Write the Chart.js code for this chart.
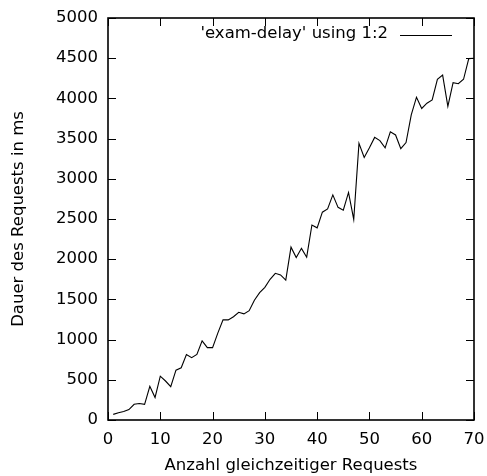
<!DOCTYPE html>
<html><head><meta charset="utf-8">
<script src="https://cdn.jsdelivr.net/npm/chart.js@4/dist/chart.umd.min.js"></script>
<style>html,body{margin:0;padding:0;background:#fff}#wrap{width:487px;height:476px}</style>
</head><body><div id="wrap"><canvas id="c" width="487" height="476"></canvas></div>
<script>
const requests = [1,2,3,4,5,6,7,8,9,10,11,12,13,14,15,16,17,18,19,20,21,22,23,24,25,26,27,28,29,30,31,32,33,34,35,36,37,38,39,40,41,42,43,44,45,46,47,48,49,50,51,52,53,54,55,56,57,58,59,60,61,62,63,64,65,66,67,68,69,70];
const durations = [70,90,105,130,195,205,195,420,280,545,485,415,620,650,815,775,815,985,900,900,1080,1245,1245,1285,1340,1320,1360,1490,1585,1650,1750,1825,1805,1740,2150,2020,2135,2025,2425,2390,2585,2625,2800,2645,2610,2830,2495,3440,3265,3385,3515,3475,3385,3585,3545,3375,3450,3795,4015,3875,3940,3980,4238,4290,3900,4195,4183,4238,4495,4500];
const xTicks = [0,10,20,30,40,50,60,70];
const yTicks = [0,500,1000,1500,2000,2500,3000,3500,4000,4500,5000];
const seriesLabel = "'exam-delay' using 1:2";
const xTitle = "Anzahl gleichzeitiger Requests";
const yTitle = "Dauer des Requests in ms";

const FONT = {family: "'DejaVu Sans', sans-serif", size: 16.5};

const frame = {
  id: 'frame',
  afterDatasetsDraw(chart) {
    const {ctx, chartArea: a, scales: {x, y}} = chart;
    ctx.save();
    ctx.strokeStyle = '#000';
    ctx.lineWidth = 1;
    ctx.beginPath();
    xTicks.forEach(v => {
      const px = Math.round(x.getPixelForValue(v)) + 0.5;
      ctx.moveTo(px, a.bottom); ctx.lineTo(px, a.bottom - 8);
      ctx.moveTo(px, a.top); ctx.lineTo(px, a.top + 8);
    });
    yTicks.forEach(v => {
      const py = Math.round(y.getPixelForValue(v)) + 0.5;
      ctx.moveTo(a.left, py); ctx.lineTo(a.left + 8, py);
      ctx.moveTo(a.right, py); ctx.lineTo(a.right - 8, py);
    });
    ctx.stroke();
    ctx.lineWidth = 1.6;
    ctx.strokeRect(a.left, a.top, a.right - a.left, a.bottom - a.top);
    // gnuplot-style key: text then line sample
    ctx.font = FONT.size + 'px ' + FONT.family;
    ctx.fillStyle = '#000';
    ctx.textAlign = 'right';
    ctx.textBaseline = 'middle';
    ctx.fillText(chart.data.datasets[0].label, a.right - 86, a.top + 16);
    ctx.lineWidth = 1;
    ctx.beginPath();
    ctx.moveTo(a.right - 74, a.top + 17.5);
    ctx.lineTo(a.right - 22, a.top + 17.5);
    ctx.stroke();
    ctx.restore();
  }
};

new Chart(document.getElementById('c'), {
  type: 'line',
  data: {
    datasets: [{
      label: seriesLabel,
      data: requests.map((r, i) => ({x: r, y: durations[i]})),
      borderColor: '#000',
      borderWidth: 1.1,
      pointRadius: 0,
      tension: 0,
      fill: false
    }]
  },
  options: {
    responsive: false,
    animation: false,
    devicePixelRatio: 1,
    layout: {padding: {top: 18, right: 13, left: 0, bottom: 0}},
    plugins: {legend: {display: false}, tooltip: {enabled: false}},
    scales: {
      x: {
        type: 'linear', min: 0, max: 70,
        afterBuildTicks: s => { s.ticks = xTicks.map(v => ({value: v})); },
        afterFit: s => { s.height = 56; s.paddingLeft = 0; s.paddingRight = 0; },
        grid: {display: false, drawTicks: false},
        border: {display: false},
        ticks: {color: '#000', font: FONT, padding: 10, maxRotation: 0, callback: v => String(v)},
        title: {display: true, text: xTitle, color: '#000', font: FONT, padding: {top: 0, bottom: 0}}
      },
      y: {
        type: 'linear', min: 0, max: 5000,
        afterBuildTicks: s => { s.ticks = yTicks.map(v => ({value: v})); },
        afterFit: s => { s.width = 108; s.paddingTop = 0; s.paddingBottom = 0; },
        grid: {display: false, drawTicks: false},
        border: {display: false},
        ticks: {color: '#000', font: FONT, padding: 10, callback: v => String(v)},
        title: {display: true, text: yTitle, color: '#000', font: FONT, padding: {top: 9, bottom: 0}}
      }
    }
  },
  plugins: [frame]
});
</script>
</body></html>
